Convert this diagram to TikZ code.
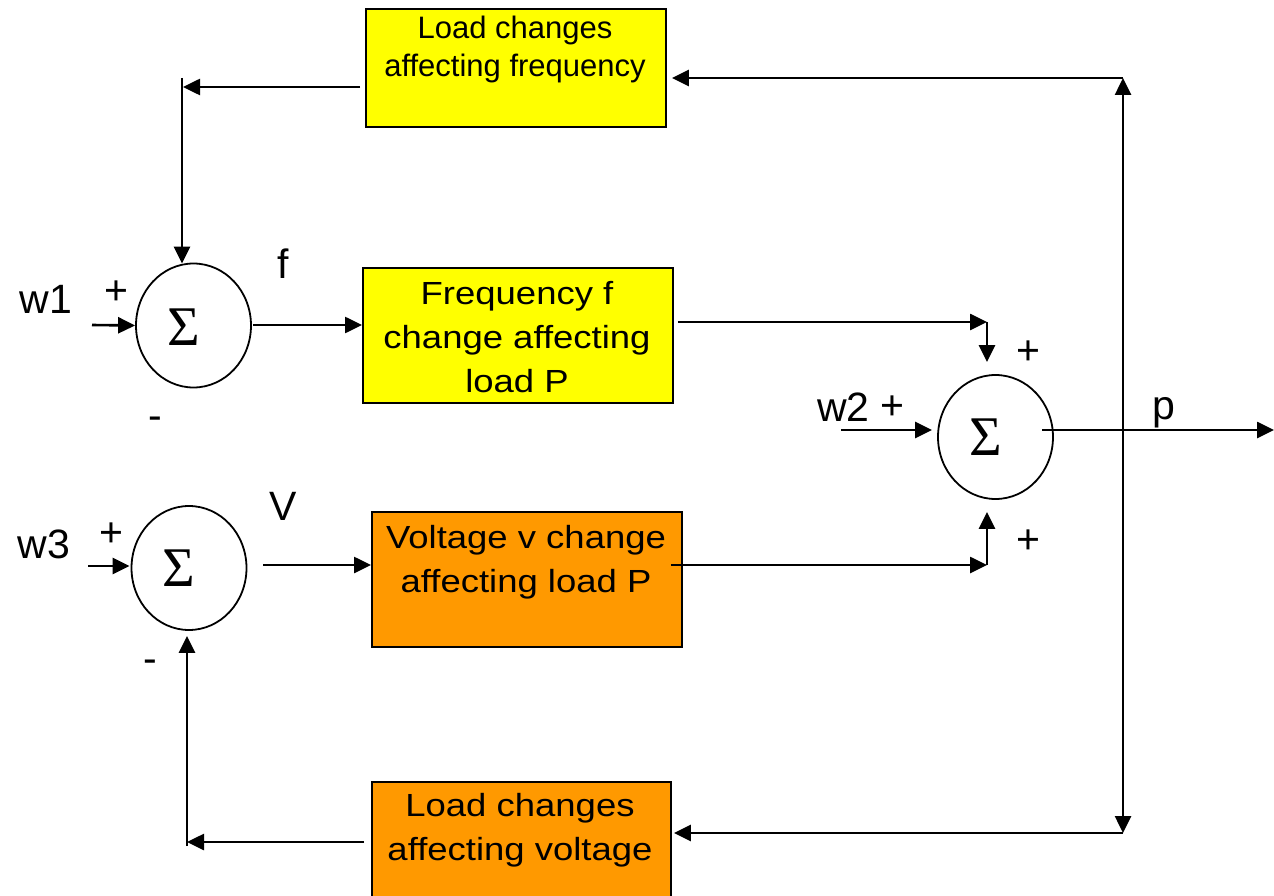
\documentclass[tikz,border=0pt]{standalone}
\usepackage{fontspec}
\setmainfont{Liberation Sans}
\newfontfamily\boxfont[FakeStretch=1.14]{Liberation Sans}
\newfontfamily\sigfont{Liberation Serif}
\usetikzlibrary{arrows.meta,shapes.geometric,calc}
\definecolor{blkyellow}{HTML}{FFFF00}
\definecolor{blkorange}{HTML}{FF9900}
\tikzset{
  conn/.style={line width=2.6pt},
  arr/.style={conn, -{Triangle[length=17pt,width=16pt]}},
  sumnode/.style={ellipse, draw, line width=1.8pt, minimum width=115pt, minimum height=124pt, inner sep=0pt},
  blk/.style={draw, line width=1.9pt, rectangle, inner sep=0pt, anchor=north west},
  btxt/.style={font=\boxfont\fontsize{32}{44}\selectfont, align=center, inner sep=0pt, anchor=base},
  ttxt/.style={font=\fontsize{31}{38}\selectfont, align=center, inner sep=0pt, anchor=base},
  lbl/.style={font=\fontsize{41}{41}\selectfont, inner sep=0pt},
  sig/.style={font=\sigfont\fontsize{56}{56}\selectfont, inner sep=0pt},
}
\begin{document}
\begin{tikzpicture}[x=1pt,y=-1pt]
\useasboundingbox (0,0) rectangle (1274,896);

% blocks
\node[blk, fill=blkyellow, minimum width=300pt, minimum height=118pt] (topbox) at (365,8) {};
\node[ttxt] (toptxt) at (515,77) {Load changes\\affecting frequency};
\node[blk, fill=blkyellow, minimum width=310pt, minimum height=135pt] (boxf) at (362,267) {};
\node[btxt] (ftxt) at (517,392) {Frequency f\\change affecting\\load P};
\node[blk, fill=blkorange, minimum width=310pt, minimum height=135pt] (boxv) at (371,511) {};
\node[btxt] (vtxt) at (526,592) {Voltage v change\\affecting load P};
\node[blk, fill=blkorange, minimum width=299pt, minimum height=130pt] (botbox) at (371,781) {};
\node[btxt] (bottxt) at (520,860) {Load changes\\affecting voltage};

% summing junctions
\node[sumnode] (c1) at (193.5,325.5) {};
\node[sig] (s1) at (184,327) {Σ};
\node[sumnode] (c3) at (189,568) {};
\node[sig] (s3) at (179,568) {Σ};
\node[sumnode] (c2) at (995.5,437) {};
\node[sig] (s2) at (986,437) {Σ};

% labels
\node[lbl] (lw1) at (46,299) {w1};
\node[lbl] (lp1) at (116.5,293) {+};
\node[lbl] (lf) at (283,264) {f};
\node[lbl] (lm1) at (155,423) {-};
\node[lbl] (lw3) at (44,544) {w3};
\node[lbl] (lp3) at (111.5,535) {+};
\node[lbl] (lV) at (283,506) {V};
\node[lbl] (lm3) at (150.5,666) {-};
\node[lbl] (lw2) at (843.5,407.5) {w2};
\node[lbl] (lp2) at (892.5,407.5) {+};
\node[lbl] (lpt) at (1028,353) {+};
\node[lbl] (lpb) at (1028,542) {+};
\node[lbl] (lpp) at (1163.5,413) {p};

% coordinates
\coordinate (w1s) at (92,325);
\coordinate (w3s) at (88,566);
\coordinate (w2s) at (841,430);
\coordinate (tlh) at (360,87);
\coordinate (tl) at (182,78);
\coordinate (fr) at (987,322);
\coordinate (vr) at (987,565);
\coordinate (vstart) at (263,565);
\coordinate (pj) at (1123,430);
\coordinate (pend) at (1274,430);
\coordinate (rt) at (1123,78);
\coordinate (rb) at (1123,833);
\coordinate (bl) at (187,842);
\coordinate (c1o) at (253,325);

% connectors
\draw[arr] (w1s) -- (c1.west);
\draw[arr] (c1o) -- (boxf.west |- c1o);
\draw[arr] (tlh) -- ($(tlh -| tl)+(1,0)$);
\draw[arr] (tl) -- ($(tl |- c1.north)+(0,1)$);
\draw[arr] ($(boxf.east |- fr)+(4,0)$) -- (fr);
\draw[arr] (fr) -- ($(fr |- c2.north)+(0,-12)$);
\draw[arr] (w3s) -- ($(c3.west |- w3s)+(-1,0)$);
\draw[arr] (vstart) -- (vstart -| boxv.west);
\draw[arr] ($(vr -| boxv.east)+(-12,0)$) -- (vr);
\draw[arr] (vr) -- ($(vr |- c2.south)+(0,12)$);
\draw[arr] (w2s) -- ($(w2s -| c2.west)+(-5,0)$);
\draw[arr] ($(c2.center)+(46.5,-7)$) -- (pend);
\draw[arr] (pj) -- (rt);
\draw[arr] (pj) -- (rb);
\draw[arr] (rt) -- ($(topbox.east |- rt)+(5,0)$);
\draw[arr] (rb) -- ($(botbox.east |- rb)+(2,0)$);
\draw[arr] ($(botbox.west |- bl)+(-7,0)$) -- (bl);
\draw[arr] ($(bl)+(0,4)$) -- ($(bl |- c3.south)+(0,5)$);
\end{tikzpicture}
\end{document}
